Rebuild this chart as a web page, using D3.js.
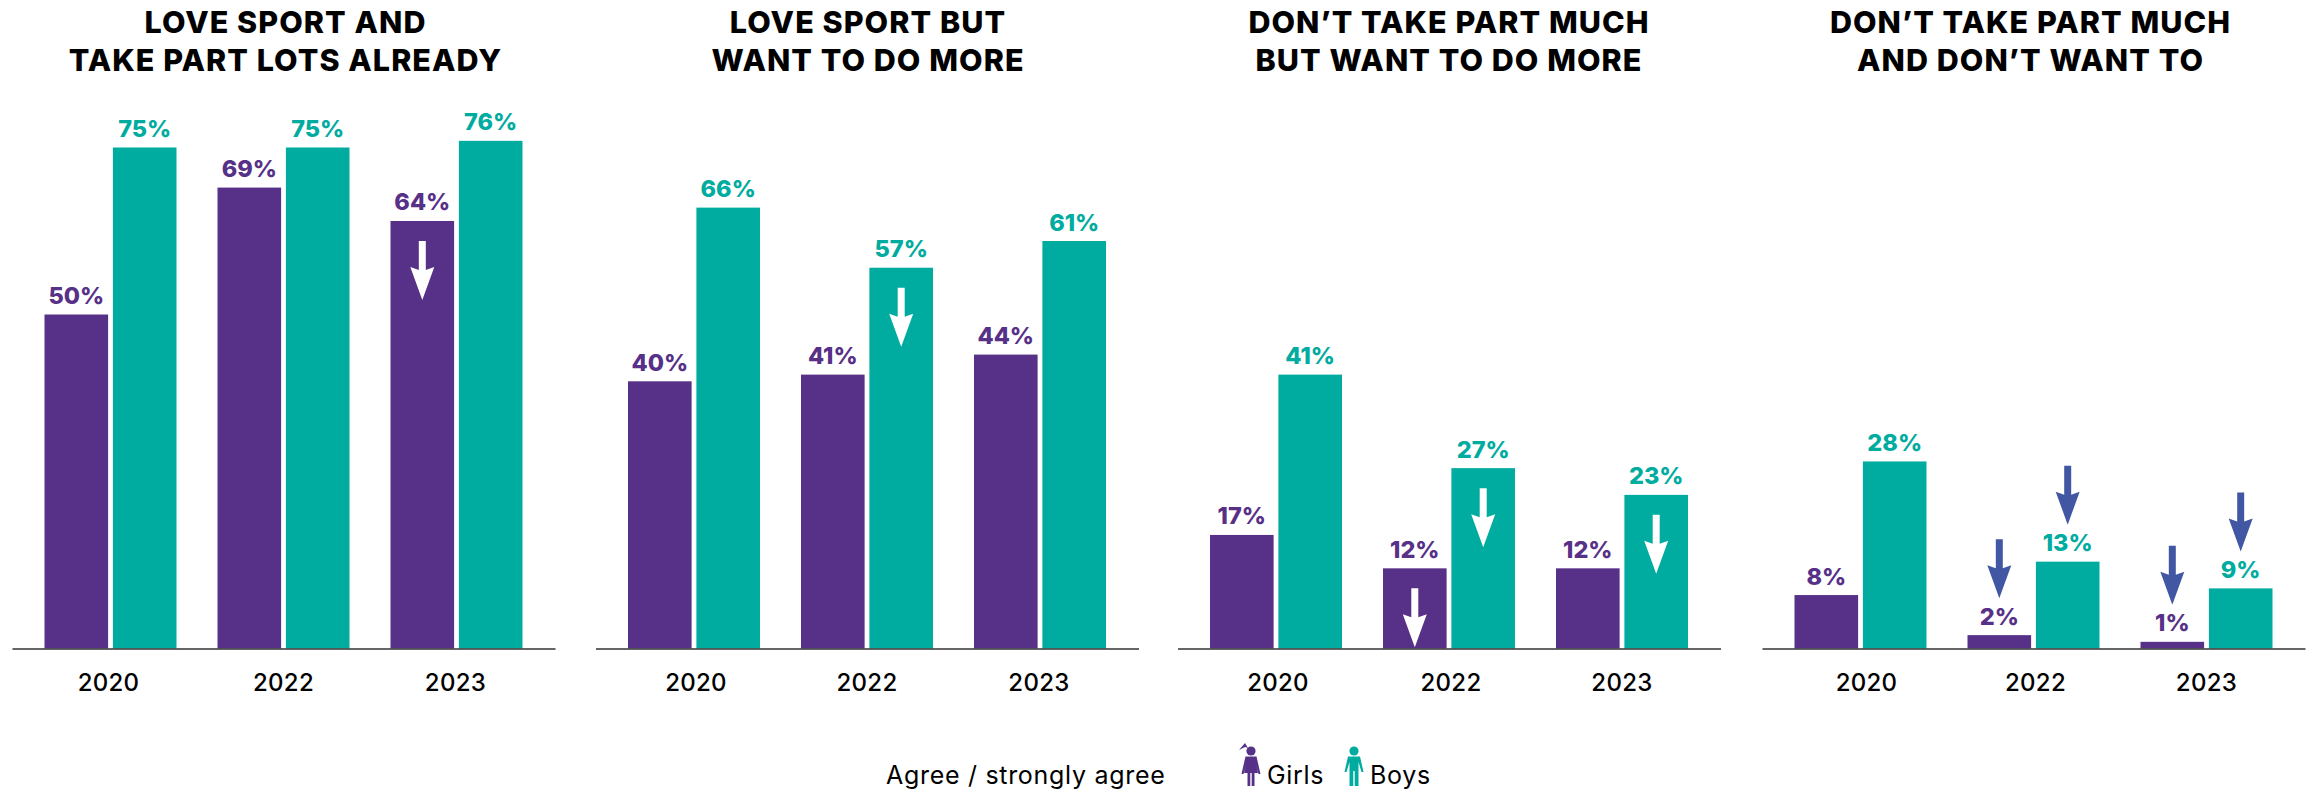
<!DOCTYPE html>
<html><head><meta charset="utf-8">
<script src="https://cdn.jsdelivr.net/npm/d3@7/dist/d3.min.js"></script>
<style>html,body{margin:0;padding:0;background:#fff}svg{display:block}text{font-family:Inter,"Open Sans",sans-serif}</style>
</head><body><svg id="c" width="2310" height="790"></svg>
<script>
const years = ["2020","2022","2023"];
const genders = ["Girls","Boys"];
const panelTitles = [
  ["LOVE SPORT AND","TAKE PART LOTS ALREADY"],
  ["LOVE SPORT BUT","WANT TO DO MORE"],
  ["DON\u2019T TAKE PART MUCH","BUT WANT TO DO MORE"],
  ["DON\u2019T TAKE PART MUCH","AND DON\u2019T WANT TO"]
];
const girlsValues = [[50,69,64],[40,41,44],[17,12,12],[8,2,1]];
const boysValues = [[75,75,76],[66,57,61],[41,27,23],[28,13,9]];
// [panel, year index, gender index, kind]
const arrows = [
  [0,2,0,"in"],[1,1,1,"in"],[2,1,0,"in"],[2,1,1,"in"],[2,2,1,"in"],
  [3,1,0,"above"],[3,1,1,"above"],[3,2,0,"above"],[3,2,1,"above"]
];
const colors = {Girls:"#573087",Boys:"#00ab9f"};
const arrowColors = {in:"#ffffff",above:"#4257a3"};
const legendLabel = "Agree / strongly agree";
const titleNudge = [3,2,1,-2];
const tickNudge = [[-2,0,-1],[2,0,-1],[2,2,0],[6,2,0]];

const W=543, baseY=648.5;
const panelX = d3.scaleOrdinal().domain([0,1,2,3]).range([12,595.5,1177.5,1762]);
const x = d3.scaleBand().domain(years).range([0,W]).paddingInner(41/173).paddingOuter(32.5/173);
const xg = d3.scaleBand().domain(genders).range([0,x.bandwidth()]).paddingInner(0.07);
const y = d3.scaleLinear().domain([0,75]).range([baseY,147.5]);
const svg = d3.select("#c");

panelTitles.forEach((title,p)=>{
  const g = svg.append("g").attr("transform",`translate(${panelX(p)},0)`);
  const t = g.append("text").attr("text-anchor","middle").attr("font-size",30.5).attr("font-weight",800)
    .attr("letter-spacing",1.05).attr("fill","#000");
  title.forEach((l,i)=>t.append("tspan").attr("x",W/2+titleNudge[p]-1).attr("y",33+i*38).text(l));
  const rows = years.flatMap((yr,i)=>[
    {yr,gender:"Girls",v:girlsValues[p][i]},
    {yr,gender:"Boys",v:boysValues[p][i]}]);
  g.selectAll("rect.bar").data(rows).join("rect").attr("class","bar")
    .attr("x",d=>x(d.yr)+xg(d.gender)).attr("width",xg.bandwidth())
    .attr("y",d=>y(d.v)).attr("height",d=>baseY-y(d.v)).attr("fill",d=>colors[d.gender]);
  g.selectAll("text.val").data(rows).join("text").attr("class","val")
    .attr("x",d=>x(d.yr)+xg(d.gender)+xg.bandwidth()/2).attr("y",d=>y(d.v)-10.5)
    .attr("text-anchor","middle").attr("font-size",23.5).attr("font-weight",800)
    .attr("fill",d=>colors[d.gender]).text(d=>d.v+"%");
  const ax = g.append("g").attr("transform",`translate(0,${baseY})`)
    .call(d3.axisBottom(x).tickSize(0).tickPadding(25));
  ax.select(".domain").attr("stroke","#333").attr("stroke-width",1.6);
  ax.selectAll("text").attr("font-size",24).attr("font-weight",500).attr("fill","#000")
    .attr("letter-spacing",0.3).attr("dx",(d,i)=>tickNudge[p][i]).style("font-family","Inter");
  arrows.filter(a=>a[0]===p).forEach(a=>{
    const gender=genders[a[2]], yr=years[a[1]];
    const v=(gender==="Girls"?girlsValues:boysValues)[p][a[1]];
    const cx=x(yr)+xg(gender)+xg.bandwidth()/2;
    const top=y(v)+(a[3]==="in"?20:-96);
    const col=arrowColors[a[3]];
    g.append("path").attr("fill",col)
      .attr("d",`M${cx-3.5},${top}H${cx+3.5}V${top+29}L${cx+12},${top+26}L${cx},${top+59}L${cx-12},${top+26}L${cx-3.5},${top+29}Z`);
  });
});

// legend
const lg = svg.append("g");
lg.append("text").attr("x",886).attr("y",784).attr("font-size",25).attr("letter-spacing",0.7).attr("fill","#000").text(legendLabel);
function person(cx,t,col,girl){
  const g=lg.append("g").attr("fill",col);
  g.append("circle").attr("cx",cx).attr("cy",t+5).attr("r",4.6);
  if(girl){
    g.append("path").attr("d",`M${cx-3},${t+2}L${cx-6},${t-3}L${cx-12},${t+4}L${cx-6},${t+1}Z`);
    g.append("path").attr("d",`M${cx-5.5},${t+10.5}H${cx+5.5}L${cx+9.5},${t+28}H${cx+7.5}L${cx+5},${t+19}L${cx+7},${t+27}H${cx+3.5}V${t+40}H${cx+0.7}V${t+27}H${cx-0.7}V${t+40}H${cx-3.5}V${t+27}H${cx-7}L${cx-5},${t+19}L${cx-7.5},${t+28}H${cx-9.5}Z`);
  } else {
    g.append("path").attr("d",`M${cx-6},${t+10.5}H${cx+6}L${cx+9.5},${t+26}H${cx+7.5}L${cx+4.5},${t+16}V${t+40}H${cx+0.7}V${t+25}H${cx-0.7}V${t+40}H${cx-4.5}V${t+16}L${cx-7.5},${t+26}H${cx-9.5}Z`);
  }
}
person(1251,746,colors.Girls,true);
person(1354,746,colors.Boys,false);
lg.selectAll("text.k").data(genders).join("text").attr("class","k")
  .attr("x",(d,i)=>[1267,1370][i]).attr("y",784).attr("font-size",25).attr("letter-spacing",0.7).attr("fill","#000").text(d=>d);
</script></body></html>
